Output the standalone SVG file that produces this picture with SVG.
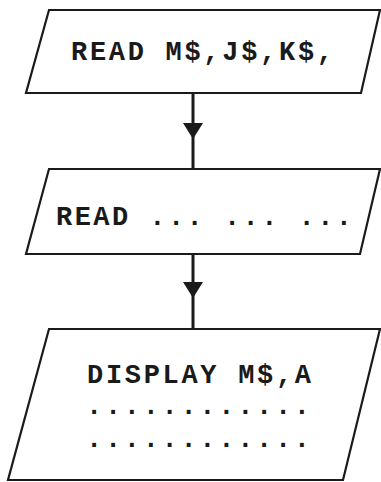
<svg xmlns="http://www.w3.org/2000/svg" width="381" height="482" viewBox="0 0 381 482">
<style>
.box{fill:#fff;stroke:#1a1a1a;stroke-width:2.2;stroke-linejoin:miter}
.t{font-family:"Liberation Mono","Courier New",monospace;font-weight:bold;font-size:27px;fill:#1a1a1a}
.ln{stroke:#1a1a1a;stroke-width:3;fill:none}
.ah{fill:#1a1a1a}
</style>
<rect width="381" height="482" fill="#fff"/>
<g id="connectors">
<line class="ln" x1="193" y1="93" x2="193" y2="169"/>
<polygon class="ah" points="183,123 203,123 193,139"/>
<line class="ln" x1="193" y1="254" x2="193" y2="329"/>
<polygon class="ah" points="183,282 203,282 193,298"/>
</g>
<g id="read1">
<polygon class="box" points="49,10 380,10 361,93 26,93"/>
<text class="t" x="71" y="60" textLength="262" lengthAdjust="spacing">READ M$,J$,K$,</text>
</g>
<g id="read2">
<polygon class="box" points="49,169 380,169 360,254 26,254"/>
<text class="t" x="56" y="225" textLength="296" lengthAdjust="spacing">READ ... ... ...</text>
</g>
<g id="display">
<polygon class="box" points="49,329 380,329 343,480 8,480"/>
<text class="t" x="87" y="383" textLength="224" lengthAdjust="spacing">DISPLAY M$,A</text>
<text class="t" x="86" y="414" textLength="224" lengthAdjust="spacing">............</text>
<text class="t" x="86" y="447" textLength="224" lengthAdjust="spacing">............</text>
</g>
</svg>
